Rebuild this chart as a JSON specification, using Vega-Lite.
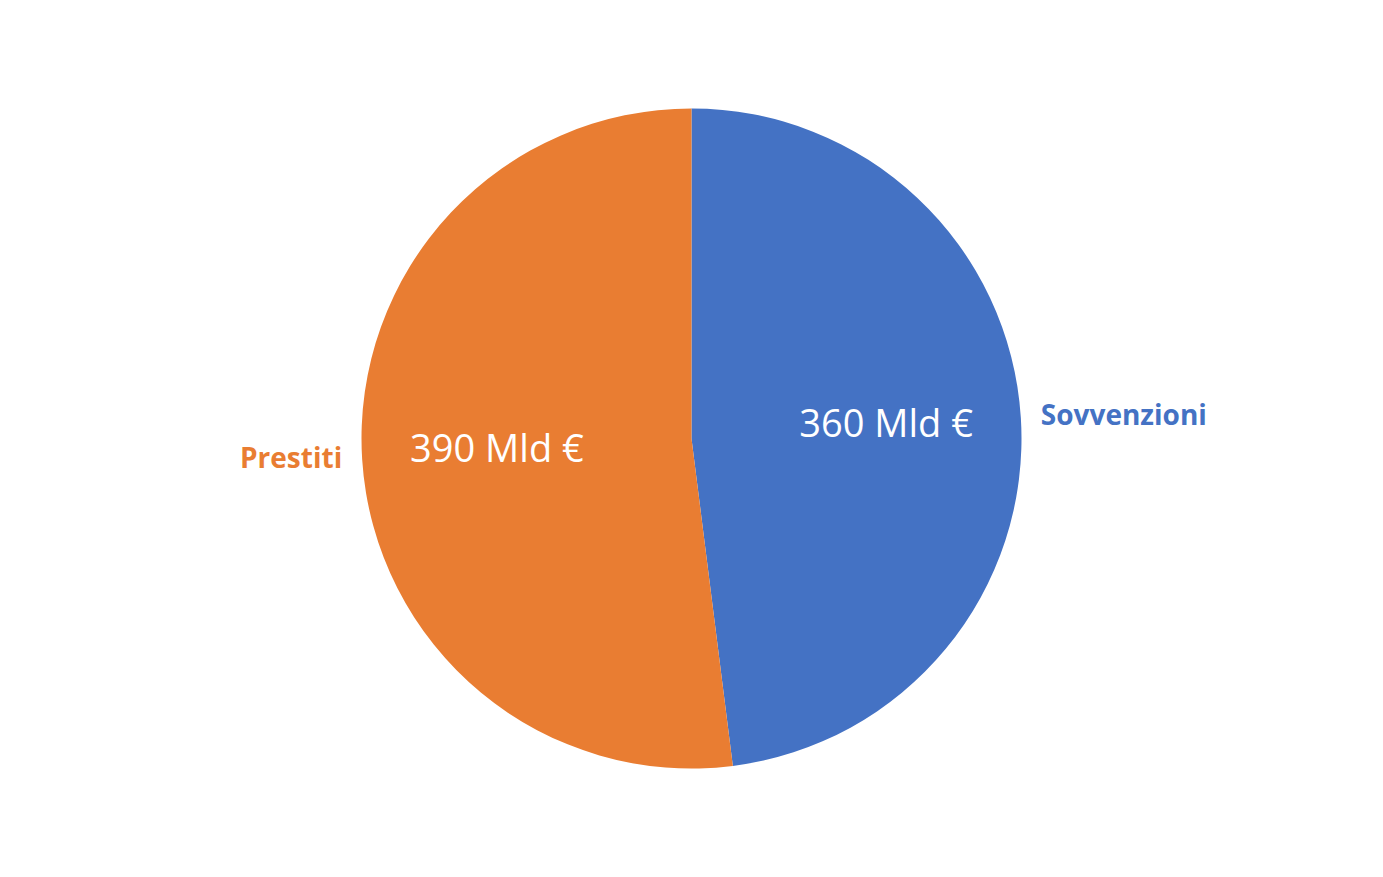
{
  "$schema": "https://vega.github.io/schema/vega-lite/v6.json",
  "autosize": {"type": "fit", "contains": "padding"},
  "width": 1383,
  "height": 877,
  "background": "white",
  "config": {"view": {"stroke": null}},
  "data": {"values": [
    {"categoria": "Sovvenzioni", "valore": 360, "etichetta": "360 Mld €"},
    {"categoria": "Prestiti", "valore": 390, "etichetta": "390 Mld €"}
  ]},
  "encoding": {
    "theta": {"field": "valore", "type": "quantitative", "stack": true},
    "order": {"field": "categoria", "sort": "descending"}
  },
  "layer": [
    {
      "mark": {"type": "arc", "outerRadius": 330},
      "encoding": {
        "color": {
          "field": "categoria", "type": "nominal", "legend": null,
          "scale": {"domain": ["Sovvenzioni", "Prestiti"], "range": ["#4472C4", "#E97D32"]}
        }
      }
    },
    {
      "mark": {"type": "text", "radius": 195, "font": "Open Sans", "fontSize": 38, "fill": "white"},
      "encoding": {"text": {"field": "etichetta"}}
    },
    {
      "mark": {
        "type": "text", "radius": 350, "font": "Open Sans", "fontWeight": "bold", "fontSize": 28,
        "align": {"expr": "datum.categoria === 'Prestiti' ? 'right' : 'left'"}
      },
      "encoding": {
        "text": {"field": "categoria"},
        "color": {"field": "categoria", "type": "nominal", "legend": null,
          "scale": {"domain": ["Sovvenzioni", "Prestiti"], "range": ["#4472C4", "#E97D32"]}}
      }
    }
  ]
}
